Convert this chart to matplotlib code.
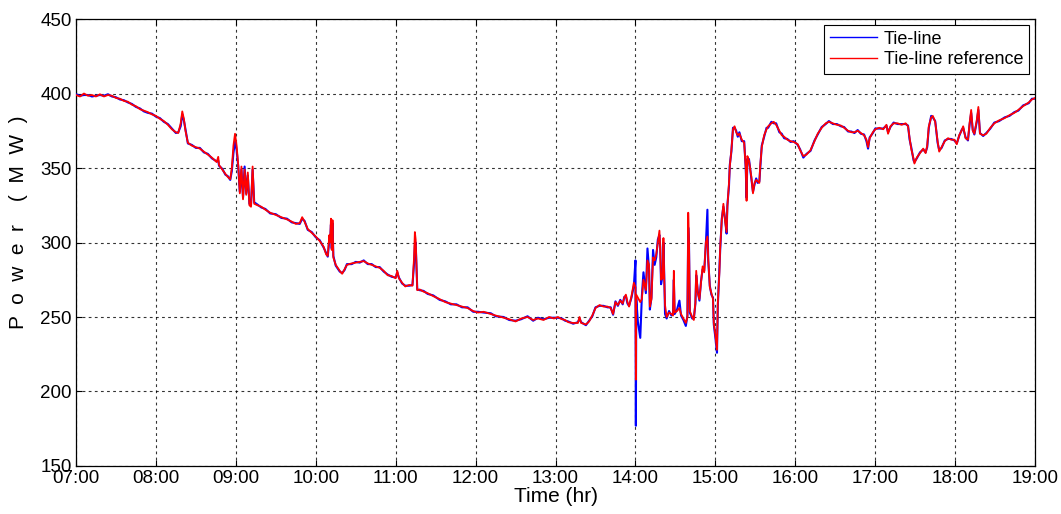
import numpy as np
import matplotlib.pyplot as plt

plt.rcParams['font.family'] = ['Liberation Sans', 'DejaVu Sans']

# time of day in hours
hours = [
    7.00, 7.05, 7.10, 7.15, 7.20, 7.25, 7.30, 7.35, 7.40, 7.45,
    7.50, 7.55, 7.60, 7.65, 7.70, 7.75, 7.80, 7.85, 7.90, 7.95,
    8.00, 8.05, 8.10, 8.15, 8.20, 8.25, 8.28, 8.31, 8.33, 8.35,
    8.37, 8.40, 8.45, 8.50, 8.55, 8.60, 8.65, 8.70, 8.76, 8.78,
    8.79, 8.83, 8.87, 8.90, 8.93, 8.95, 8.97, 8.99, 9.01, 9.03,
    9.05, 9.07, 9.09, 9.11, 9.13, 9.15, 9.17, 9.19, 9.21, 9.23,
    9.27, 9.32, 9.37, 9.43, 9.50, 9.57, 9.64, 9.70, 9.75, 9.80,
    9.83, 9.86, 9.90, 9.95, 10.00, 10.05, 10.10, 10.13, 10.15, 10.17,
    10.18, 10.19, 10.20, 10.21, 10.22, 10.25, 10.30, 10.33, 10.36, 10.39,
    10.45, 10.50, 10.55, 10.60, 10.65, 10.70, 10.75, 10.80, 10.85, 10.90,
    10.95, 11.00, 11.02, 11.04, 11.08, 11.12, 11.17, 11.21, 11.23, 11.24,
    11.25, 11.27, 11.30, 11.35, 11.40, 11.47, 11.55, 11.62, 11.69, 11.76,
    11.83, 11.90, 11.97, 12.03, 12.10, 12.19, 12.25, 12.35, 12.42, 12.50,
    12.57, 12.65, 12.72, 12.78, 12.85, 12.92, 12.98, 13.03, 13.08, 13.12,
    13.16, 13.22, 13.28, 13.30, 13.32, 13.38, 13.42, 13.46, 13.50, 13.55,
    13.60, 13.65, 13.69, 13.72, 13.75, 13.78, 13.81, 13.84, 13.86, 13.88,
    13.90, 13.92, 13.95, 13.98, 14.00, 14.005, 14.01, 14.03, 14.06, 14.08,
    14.10, 14.13, 14.15, 14.17, 14.18, 14.20, 14.22, 14.24, 14.26, 14.28,
    14.30, 14.31, 14.32, 14.34, 14.35, 14.36, 14.37, 14.39, 14.42, 14.45,
    14.47, 14.48, 14.49, 14.52, 14.55, 14.57, 14.60, 14.63, 14.65, 14.66,
    14.67, 14.68, 14.71, 14.73, 14.75, 14.76, 14.78, 14.80, 14.82, 14.84,
    14.86, 14.88, 14.90, 14.91, 14.93, 14.95, 14.97, 14.98, 15.00, 15.02,
    15.03, 15.05, 15.06, 15.08, 15.10, 15.12, 15.14, 15.15, 15.17, 15.18,
    15.20, 15.22, 15.24, 15.26, 15.28, 15.30, 15.33, 15.36, 15.38, 15.39,
    15.40, 15.42, 15.45, 15.47, 15.49, 15.51, 15.53, 15.55, 15.56, 15.58,
    15.61, 15.64, 15.66, 15.70, 15.73, 15.76, 15.80, 15.83, 15.86, 15.90,
    15.94, 15.98, 16.03, 16.06, 16.10, 16.14, 16.19, 16.24, 16.28, 16.33,
    16.38, 16.42, 16.47, 16.52, 16.57, 16.61, 16.66, 16.70, 16.74, 16.78,
    16.82, 16.86, 16.89, 16.91, 16.93, 16.97, 17.00, 17.05, 17.10, 17.14,
    17.16, 17.19, 17.23, 17.28, 17.33, 17.38, 17.41, 17.43, 17.45, 17.48,
    17.49, 17.52, 17.56, 17.60, 17.63, 17.65, 17.67, 17.70, 17.72, 17.75,
    17.78, 17.80, 17.83, 17.87, 17.91, 17.95, 17.99, 18.02, 18.05, 18.08,
    18.10, 18.13, 18.16, 18.18, 18.20, 18.22, 18.24, 18.27, 18.29, 18.31,
    18.35, 18.39, 18.44, 18.49, 18.55, 18.62, 18.68, 18.74, 18.79, 18.85,
    18.92, 18.96, 19.00,
]

# tie-line reference (MW)
ref_mw = [
    399, 398, 400, 398.5, 399, 398, 399.5, 398, 399, 398.5,
    397, 396.5, 395, 394.5, 392.5, 391.5, 389.5, 388.5, 387.5, 386,
    385, 383, 381.5, 379, 376, 374, 373.5, 380, 388, 383,
    375, 367, 365, 364, 363, 361, 359, 357, 354, 357.5,
    352, 349, 346, 344, 342.5, 350, 365, 373, 365, 352,
    333, 351, 329, 349, 332, 347, 325, 324, 351, 326,
    325, 324, 322, 320, 318.5, 317, 315.5, 314, 312.5, 313,
    317, 314, 309, 306.5, 304, 301, 297, 292, 291, 305,
    300, 316, 295, 315, 290, 285, 281, 279, 282, 285,
    286, 286.5, 287, 287.5, 286, 285, 284, 283, 281, 278,
    277.5, 276, 281, 276, 273, 270.5, 271.5, 271, 290, 307,
    302, 268, 268.5, 267, 266, 264, 262, 260, 259, 258,
    257, 256, 254, 253, 253.5, 252, 251, 249.5, 248.5, 247,
    249, 250, 248, 249, 248, 250, 249, 250, 248.5, 248,
    246.5, 246, 246, 250, 246, 245, 247, 251, 256, 258,
    257, 257, 256, 252, 260, 258, 261, 259, 263, 265,
    260, 257, 264, 273, 270, 208, 265, 263, 260, 262,
    275, 268, 288, 285, 257, 262, 290, 288, 292, 300,
    308, 295, 275, 276, 303, 276, 258, 250, 253, 252,
    251, 281, 253, 254, 256, 252, 249, 246, 250, 320,
    300, 254, 250, 248, 260, 281, 266, 262, 273, 284,
    280, 300, 304, 290, 270, 266, 262, 246, 238, 228,
    259, 280, 297, 315, 326, 315, 307, 324, 340, 351,
    362, 376, 378, 374, 372, 373, 369, 367, 350, 328,
    358, 355, 344, 333, 340, 342, 341, 340, 351, 364,
    372, 376, 378, 380, 381, 379, 375, 372, 371, 369,
    368, 367.5, 366, 362, 358, 359, 362, 368, 373, 377,
    380, 381, 380, 379, 378.5, 377, 375, 374, 374, 375,
    373.5, 372, 369, 364, 370, 374, 376, 377, 376, 379,
    373, 378, 380, 380, 379, 380, 378, 370, 363, 356,
    353, 357, 360, 363, 360, 365, 378, 384, 385, 381,
    368, 361, 364, 368, 370, 369, 369, 366, 372, 375,
    378, 370, 369, 380, 389, 375, 373, 382, 391, 373,
    372, 373, 377, 380, 382, 383.5, 385.5, 387, 389, 391.5,
    394, 396, 397,
]

# measured tie-line (MW)
tie_mw = [
    399.5, 398.5, 399, 399, 398, 398.5, 399, 398.5, 399.5, 398,
    397.5, 396, 395.5, 394, 393, 391, 390, 388, 387, 386.5,
    384.5, 383.5, 381, 379.5, 376.5, 373.5, 374, 378, 386, 382,
    376, 366.5, 365.5, 363.5, 363.5, 360.5, 359.5, 356.5, 354.5, 355,
    351.5, 349.5, 345.5, 344.5, 342, 348, 360, 368, 362, 351,
    334, 349, 330, 351, 333, 345, 326, 325, 349, 327,
    325.5, 323.5, 322.5, 319.5, 319, 316.5, 316, 313.5, 313, 312.5,
    316, 314.5, 308.5, 307, 303.5, 301.5, 296.5, 293, 290.5, 302,
    301, 312, 296, 313, 291, 284.5, 280.5, 279.5, 281.5, 285.5,
    285.5, 287, 286.5, 288, 285.5, 285.5, 283.5, 283.5, 280.5, 278.5,
    277, 276.5, 280, 276.5, 272.5, 271, 271, 271.5, 286, 298,
    300, 268.5, 268, 267.5, 265.5, 264.5, 261.5, 260.5, 258.5, 258.5,
    256.5, 256.5, 253.5, 253.5, 253, 252.5, 250.5, 250, 248, 247.5,
    248.5, 250.5, 247.5, 249.5, 248.5, 249.5, 249.5, 249.5, 249, 247.5,
    247, 245.5, 246.5, 249, 246.5, 244.5, 247.5, 250.5, 256.5, 257.5,
    257.5, 256.5, 256.5, 251.5, 260.5, 257.5, 261.5, 258.5, 263.5, 264,
    259, 257.5, 263, 271, 288, 177, 262, 247, 236, 264,
    280, 266, 296, 282, 255, 263, 295, 285, 290, 302,
    305, 297, 272, 278, 300, 278, 252, 249, 254, 251,
    252, 275, 252, 255, 261, 251, 248, 244, 251, 310,
    298, 253, 249, 249, 259, 278, 267, 261, 274, 282,
    281, 298, 322, 288, 271, 265, 263, 245, 236, 226,
    257, 282, 295, 316, 324, 316, 306, 325, 338, 352,
    361, 377, 377, 375, 371, 374, 368, 368, 349, 330,
    356, 356, 343, 334, 339, 343, 340, 341, 349, 365,
    371, 377, 377, 381, 380, 380, 374, 373, 370, 369.5,
    367.5, 368, 365.5, 362.5, 357, 359.5, 361.5, 368.5, 372.5, 377.5,
    379.5, 381.5, 379.5, 379.5, 378, 377.5, 374.5, 374.5, 373.5, 375.5,
    373, 372.5, 368, 363, 370.5, 373.5, 376.5, 376.5, 376.5, 378.5,
    374, 377.5, 380.5, 379.5, 379.5, 379.5, 378.5, 369, 364, 355,
    354, 356.5, 360.5, 362.5, 360.5, 364, 377, 385, 384, 381.5,
    367, 362, 363.5, 368.5, 369.5, 369.5, 368.5, 366.5, 371.5, 375.5,
    377, 370.5, 368.5, 379, 387, 375.5, 372.5, 381, 389, 373.5,
    371.5, 373.5, 376.5, 380.5, 381.5, 384, 385, 387.5, 388.5, 392,
    393.5, 396.5, 396.5,
]

tick_hours = list(range(7, 20))
tick_labels = ['%02d:00' % h for h in tick_hours]
power_ticks = [150, 200, 250, 300, 350, 400, 450]

fig = plt.figure(figsize=(10.61, 5.14), dpi=100)
ax = fig.add_axes([0.0716, 0.0934, 0.904, 0.8696])

ax.plot(hours, tie_mw, color='#0000ff', linewidth=1.5, label='Tie-line', zorder=3)
ax.plot(hours, ref_mw, color='#ff0000', linewidth=1.3, label='Tie-line reference', zorder=4)

ax.set_xlim(7, 19)
ax.set_ylim(150, 450)
ax.set_xticks(tick_hours)
ax.set_xticklabels(tick_labels)
ax.set_yticks(power_ticks)

ax.grid(True, color='black', linestyle=(0, (2.5, 3)), linewidth=0.8, alpha=0.8)
ax.tick_params(direction='in', length=4, width=0.8, top=True, right=True,
               labelsize=13.5, pad=3)
for s in ax.spines.values():
    s.set_linewidth(0.9)

ax.set_xlabel('Time (hr)', fontsize=15, labelpad=0)
ax.set_ylabel('P  o  w  e  r    (  M  W  )', fontsize=15)
ax.yaxis.set_label_coords(-0.05, 0.545)

leg = ax.legend(loc='upper right', fontsize=13, fancybox=False, framealpha=1,
                edgecolor='black', borderaxespad=0.35, handlelength=2.6,
                borderpad=0.3, labelspacing=0.2, handletextpad=0.4)
leg.get_frame().set_linewidth(0.8)
for line in leg.get_lines():
    line.set_linewidth(1.0)

fig.savefig('out.png', dpi=100)
